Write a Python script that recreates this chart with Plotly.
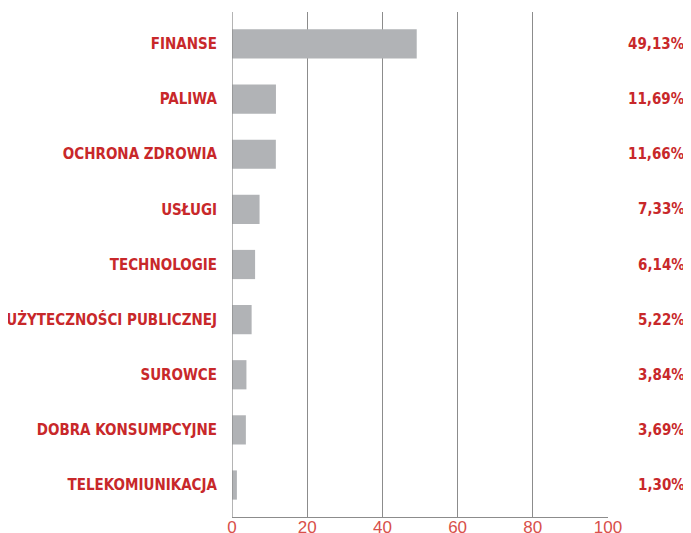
import plotly.graph_objects as go

categories = ["FINANSE", "PALIWA", "OCHRONA ZDROWIA", "USŁUGI", "TECHNOLOGIE",
              "UŻYTECZNOŚCI PUBLICZNEJ", "SUROWCE", "DOBRA KONSUMPCYJNE", "TELEKOMIUNIKACJA"]
values = [49.13, 11.69, 11.66, 7.33, 6.14, 5.22, 3.84, 3.69, 1.30]
value_labels = ["49,13%", "11,69%", "11,66%", "7,33%", "6,14%", "5,22%", "3,84%", "3,69%", "1,30%"]
tick_vals = [0, 20, 40, 60, 80, 100]

RED = "#c8282a"
TICKRED = "#d8504a"
GRID = "#8c8c8c"
FONT = "DejaVu Sans Condensed, Arial Narrow, sans-serif"

fig = go.Figure(go.Bar(
    x=values, y=categories, orientation="h",
    marker=dict(color="#b1b3b6", line=dict(width=0)),
    width=0.53, hoverinfo="skip",
))

for cat, lab in zip(categories, value_labels):
    fig.add_annotation(x=1.21, xref="paper", y=cat, yref="y", text=f"<b>{lab}</b>",
                       showarrow=False, xanchor="right",
                       font=dict(family=FONT, size=15, color=RED))

# page has an 8px body margin, so the figure is 8px smaller than the window
fig.update_layout(
    width=683, height=525,
    margin=dict(l=224, r=83, t=4, b=16),
    paper_bgcolor="white", plot_bgcolor="white",
    showlegend=False,
    xaxis=dict(range=[0, 100], tickvals=tick_vals, showgrid=True, gridcolor=GRID, gridwidth=1.3,
               zeroline=False, showline=True, linecolor=GRID, linewidth=1.3, automargin=False,
               ticks="", ticklabelstandoff=-6,
               tickfont=dict(family="Liberation Sans, Arial, sans-serif", size=17, color=TICKRED)),
    yaxis=dict(categoryorder="array", categoryarray=categories, range=[8.58, -0.58],
               showgrid=False, zeroline=False, showline=False, ticks="outside", ticklen=11,
               tickcolor="rgba(0,0,0,0)", automargin=False,
               tickmode="array", tickvals=categories, ticktext=[f"<b>{c}</b>" for c in categories],
               tickfont=dict(family=FONT, size=15, color=RED)),
)
fig.add_shape(type="line", xref="x", yref="paper", x0=0, x1=0, y0=0, y1=1,
              line=dict(color=GRID, width=1.3), layer="above")

fig.write_html("out.html")
